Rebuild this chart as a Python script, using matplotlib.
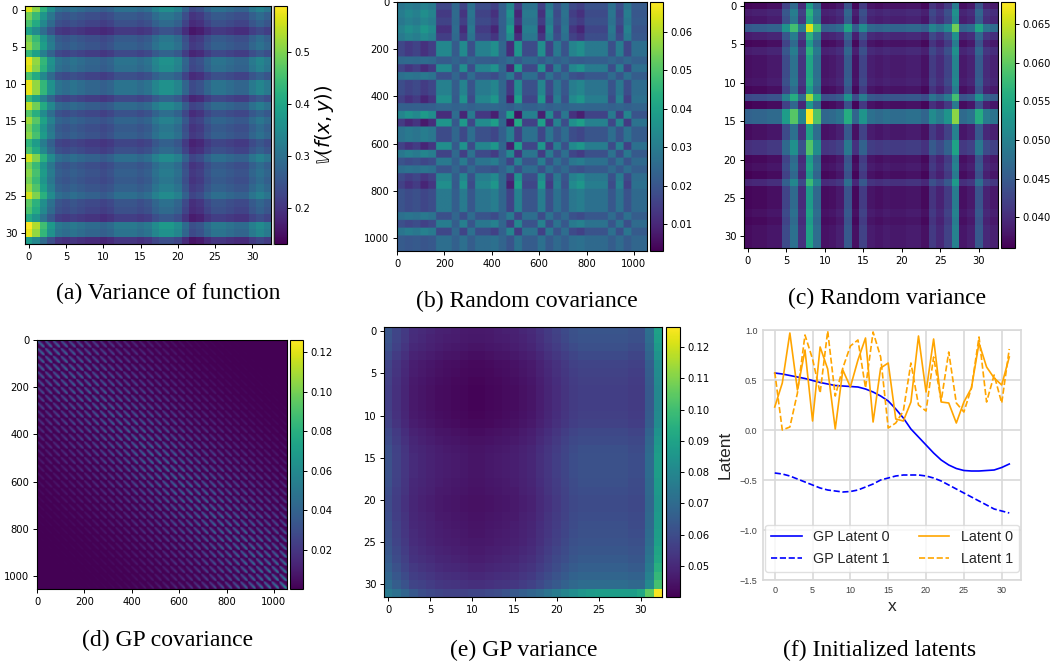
import numpy as np
import matplotlib
matplotlib.use("Agg")
import matplotlib.pyplot as plt
from matplotlib.lines import Line2D

W, H = 1053, 666

# (a) variance of function, read as column level and row factor
col_a = [.49, .44, .37, .31, .26, .25, .26, .25, .24, .24, .23, .24, .26, .26, .26, .25, .26,
         .29, .31, .31, .29, .24, .20, .21, .24, .26, .26, .25, .24, .24, .27, .29, .27]
row_a = [1.18, 1.0, .92, .76, 1.0, 1.05, .87, 1.2, 1.17, .92, 1.2, 1.2, .87, 1.13, .94, 1.08,
         1.0, 1.04, .85, .92, 1.16, 1.0, 1.04, 1.0, 1.06, 1.16, .96, .92, .80, 1.25, 1.2, .74]

# (b) random covariance, block levels
blocks_b = [.7, 1.0, .8, 1.2, .9, -1.0, -1.0, .2, -1.1, .5, -.8, -.8, -1.2, -.1, 1.3, -1.4,
            .6, .6, -1.2, .8, -.6, .4, -.9, -1.2, -.6, -.6, -.6, .5, -.7, .7, -.3, -.3]

# (c) random variance
col_c = [0, .02, .02, .05, .05, .35, .62, .2, 1.0, .6, .03, .05, .1, .45, .02, .3, .08,
         .05, .08, .06, .06, .08, .08, .02, .25, .15, .3, .75, .05, .1, .45, .15, .1]
row_c = [0, .2, .12, .9, .2, 0, .2, .08, .08, .08, .12, 0, .7, -.03, 1.0, 1.0,
         .06, .06, .4, .4, 0, .06, -.03, .3, 0, 0, 0, .06, 0, .06, .06, .06]

# (e) GP variance
col_e = [.056, .052, .049, .046, .045, .044, .043, .0425, .042, .0415, .041, .041, .0415, .042,
         .0425, .043, .044, .045, .047, .049, .051, .053, .055, .056, .056, .056, .056, .056,
         .056, .055, .055, .064, .080]
row_e = [1.12, 1.11, 1.09, 1.06, 1.03, 1.02, 1.01, 1.0, 1.0, 1.0, 1.01, 1.02, 1.05, 1.07, 1.09,
         1.10, 1.10, 1.10, 1.09, 1.08, 1.07, 1.07, 1.08, 1.09, 1.10, 1.11, 1.13, 1.15, 1.18,
         1.22, 1.26, 1.56]
bottom_e = [.075, .072, .068, .064, .061, .059, .058, .057, .057, .057, .058, .058, .059, .060,
            .062, .064, .066, .068, .070, .073, .076, .079, .082, .085, .087, .088, .088, .088,
            .088, .088, .092, .105, .126]

# (d) GP covariance, correlation against distance and dimming at block edges
corr_blocks = [1, .97, .93, .88, .82, .76, .7, .64, .58, .52, .46, .41, .36, .31, .27, .23, .19,
               .16, .13, .1, .08, .065, .05, .04, .03, .025, .02, .015, .012, .01, .008, .006]
corr_cells = [.8, .77, .71, .63, .55, .46, .38, .31, .25, .2, .16, .13, .1, .08, .06, .05, .04,
              .03, .03, .02, .02, .02, .015, .015, .01, .01, .01, .01, .01, .01, .01, .01, .01]
edge_cells = [.55, .66, .76, .85, .91, .96, 1, 1, 1, 1, 1, 1, 1, 1, 1, 1, 1,
              1, 1, 1, 1, 1, 1, 1, 1, 1, 1, .96, .91, .85, .76, .66, .55]

# (f) latents
x_f = list(range(32))
gp_latent_0 = [.57, .56, .545, .53, .515, .495, .475, .46, .445, .44, .435, .43, .41, .38, .34, .29,
               .21, .12, .01, -.07, -.15, -.23, -.30, -.35, -.385, -.405, -.41, -.41, -.405, -.40,
               -.375, -.34]
gp_latent_1 = [-.43, -.44, -.46, -.49, -.52, -.55, -.58, -.60, -.61, -.62, -.615, -.60, -.57, -.54,
               -.50, -.48, -.46, -.45, -.45, -.45, -.46, -.48, -.51, -.55, -.59, -.63, -.67, -.71,
               -.75, -.79, -.81, -.83]
latent_0 = [.23, .47, .97, .40, .80, .09, .83, .61, .01, .60, .43, .70, .92, .08, .62, .67,
            .11, .09, .28, .94, .38, .91, .28, .27, .07, .28, .42, .87, .63, .52, .45, .73]
latent_1 = [.58, .0, .03, .37, .95, .71, .37, .99, .34, .62, .84, .90, .42, .98, .73, .02,
            .07, .19, .67, .25, .19, .73, .29, .78, .27, .18, .42, .93, .28, .55, .27, .81]

captions = ["(a) Variance of function", "(b) Random covariance", "(c) Random variance",
            "(d) GP covariance", "(e) GP variance", "(f) Initialized latents"]


def px_axes(fig, left, top, right, bottom):
    return fig.add_axes([left / W, 1 - bottom / H, (right - left) / W, (bottom - top) / H])


def heatmap(fig, data, box, cbar_x, vlim, xticks, yticks, cticks, fmt):
    ax = px_axes(fig, box[0], box[1], box[2], box[3])
    im = ax.imshow(data, cmap="viridis", aspect="auto", vmin=vlim[0], vmax=vlim[1])
    ax.set_xticks(xticks)
    ax.set_yticks(yticks)
    ax.tick_params(labelsize=7.2, length=3, width=0.7, pad=2.5)
    cax = px_axes(fig, cbar_x[0], box[1], cbar_x[1], box[3])
    cb = fig.colorbar(im, cax=cax)
    cb.set_ticks(cticks)
    cb.ax.set_yticklabels([fmt % t for t in cticks])
    cb.ax.tick_params(labelsize=7.2, length=3, width=0.7, pad=2.5)
    return ax, cb


col_a = np.array(col_a)
row_a = np.array(row_a)
var_a = col_a * (1 + 0.85 * (row_a[:, None] - 1))

blocks_b = np.array(blocks_b)
fine_b = np.array(col_c) - np.mean(col_c)
cov_b = 0.0235 + 0.0095 * np.kron(np.outer(blocks_b, blocks_b), np.ones((33, 33))) \
    + 0.002 * np.kron(np.ones((32, 32)), np.outer(fine_b, fine_b))

c_c = np.array(col_c)
r_c = np.array(row_c)
var_c = 0.0365 + 0.017 * c_c[None, :] + 0.0095 * r_c[:, None] + 0.0048 * np.outer(r_c, c_c)

var_e = np.outer(row_e, col_e)
var_e[-1] = bottom_e

idx_i = np.arange(32)
idx_k = np.arange(33)
corr_i = np.array(corr_blocks)[np.abs(idx_i[:, None] - idx_i[None, :])]
corr_k = np.array(corr_cells)[np.abs(idx_k[:, None] - idx_k[None, :])]
corr_k = corr_k * np.outer(edge_cells, edge_cells)
std_d = np.sqrt(var_e).ravel()
cov_d = np.kron(corr_i, corr_k) * np.outer(std_d, std_d)

fig = plt.figure(figsize=(W / 100, H / 100), dpi=100)

ticks_32 = list(range(0, 31, 5))
ticks_1k = list(range(0, 1001, 200))

ax, cb = heatmap(fig, var_a, (25, 6, 271, 244), (274, 287), (.131, .588), ticks_32, ticks_32,
                 [.2, .3, .4, .5], "%.1f")
cb.set_label(r"$\mathbb{V}(f(x, y))$", fontsize=14, labelpad=2)
fig.add_artist(Line2D([272.5 / W, 272.5 / W], [1 - 6 / H, 1 - 244 / H], color="0.7", lw=1))

heatmap(fig, cov_b, (397, 2, 647, 251), (650, 663), (.003, .0678), ticks_1k, ticks_1k,
        [.01, .02, .03, .04, .05, .06], "%.2f")

heatmap(fig, var_c, (744, 2, 998, 248), (1001, 1015), (.036, .0679), ticks_32, ticks_32,
        [.04, .045, .05, .055, .06, .065], "%.3f")

heatmap(fig, cov_d, (37, 340, 287, 589), (290, 303), (.0003, .126), ticks_1k, ticks_1k,
        [.02, .04, .06, .08, .10, .12], "%.2f")

heatmap(fig, var_e, (384, 327, 662, 597), (666, 680), (.0401, .1264), ticks_32, ticks_32,
        [.05, .06, .07, .08, .09, .10, .11, .12], "%.2f")

ax = px_axes(fig, 763, 330, 1021, 580)
ax.plot(x_f, gp_latent_0, color="blue", lw=1.2, label="GP Latent 0")
ax.plot(x_f, gp_latent_1, color="blue", lw=1.2, ls="--", label="GP Latent 1")
ax.plot(x_f, latent_0, color="orange", lw=1.2, label="Latent 0")
ax.plot(x_f, latent_1, color="orange", lw=1.2, ls="--", label="Latent 1")
ax.set_ylim(-1.5, 1.0)
ax.set_yticks([-1.5, -1.0, -0.5, 0.0, 0.5, 1.0])
ax.set_xticks(ticks_32)
ax.grid(True, color="0.85", lw=1.2)
ax.set_axisbelow(True)
for s in ax.spines.values():
    s.set_color("0.85")
    s.set_linewidth(1.2)
ax.tick_params(length=0, labelsize=6.5, labelcolor="0.25", pad=4)
for t in ax.get_xticklabels() + ax.get_yticklabels():
    t.set_family("Liberation Sans")
ax.set_xlabel("x", fontsize=12.5, family="Liberation Sans", color="0.15", labelpad=3)
ax.set_ylabel("Latent", fontsize=12.5, family="Liberation Sans", color="0.15", labelpad=5)
ax.legend(ncol=2, loc="lower center", bbox_to_anchor=(0.5, 0.032), borderaxespad=0,
          prop={"family": "Liberation Sans", "size": 10.4}, labelcolor="0.15",
          columnspacing=2.0, handlelength=2.1, labelspacing=0.55, borderpad=0.4,
          edgecolor="0.85", framealpha=0.8)

caption_x = [168, 527, 887, 168, 524, 880]
caption_y = [293, 301, 298, 640, 650, 650]
for c, cx, cy in zip(captions, caption_x, caption_y):
    fig.text(cx / W, 1 - cy / H, c, family="Liberation Serif", fontsize=17,
             ha="center", va="center", color="black")

fig.savefig("out.png", dpi=100)
